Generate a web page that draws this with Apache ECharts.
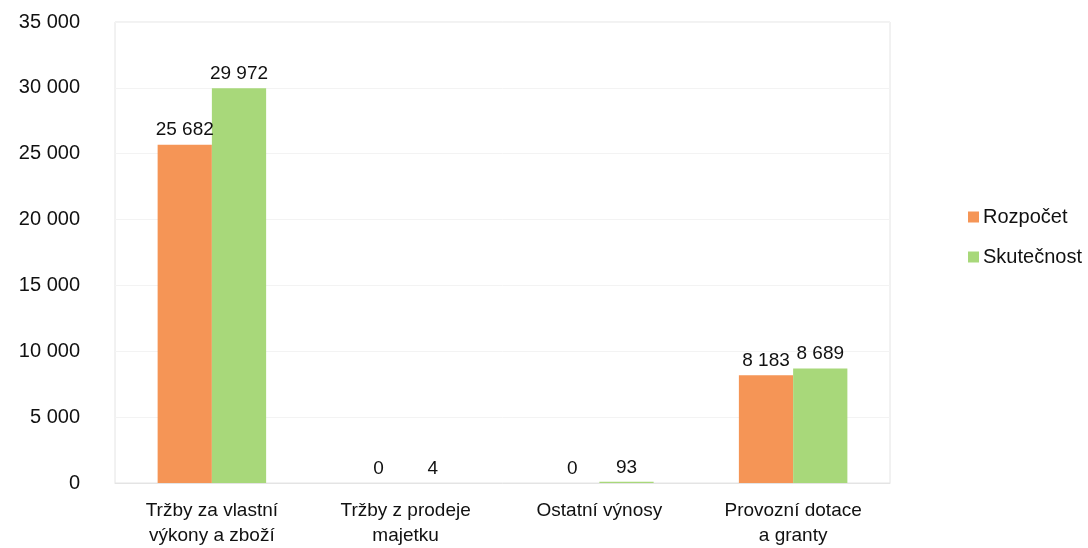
<!DOCTYPE html>
<html>
<head>
<meta charset="utf-8">
<script src="https://cdn.jsdelivr.net/npm/echarts@6/dist/echarts.min.js"></script>
<style>
  html, body { margin: 0; padding: 0; background: #fff; }
  #chart { width: 1088px; height: 548px; }
</style>
</head>
<body>
<div id="chart"></div>
<script>
// Výnosy: rozpočet vs. skutečnost (v tis. Kč)
const categories = [
  'Tržby za vlastní\nvýkony a zboží',
  'Tržby z prodeje\nmajetku',
  'Ostatní výnosy',
  'Provozní dotace\na granty'
];
const rozpocet = [25682, 0, 0, 8183];
const skutecnost = [29972, 4, 93, 8689];
const yTicks = [0, 5000, 10000, 15000, 20000, 25000, 30000, 35000];

const fmt = v => String(Math.round(v)).replace(/\B(?=(\d{3})+(?!\d))/g, ' ');
const font = 'Liberation Sans, Arial, sans-serif';
const ink = '#111111';

const chart = echarts.init(document.getElementById('chart'), null, { renderer: 'canvas' });

const labelStyle = {
  show: true,
  position: 'top',
  distance: 5,
  color: ink,
  fontSize: 19,
  fontFamily: font,
  formatter: p => fmt(p.value)
};

chart.setOption({
  animation: false,
  backgroundColor: '#ffffff',
  textStyle: { fontFamily: font },
  grid: {
    left: 115, right: 198, top: 22, bottom: 63,
    show: true, borderColor: '#e4e4e4', borderWidth: 1
  },
  legend: {
    orient: 'vertical',
    left: 963, top: 202,
    itemWidth: 11, itemHeight: 11, itemGap: 20,
    icon: 'rect',
    textStyle: { fontSize: 20, color: ink, fontFamily: font, padding: [0, 0, 0, -1] },
    data: ['Rozpočet', 'Skutečnost']
  },
  xAxis: {
    type: 'category',
    data: categories,
    axisLine: { show: true, lineStyle: { color: '#e4e4e4' } },
    axisTick: { show: false },
    axisLabel: {
      color: ink, fontSize: 19, fontFamily: font,
      lineHeight: 25, margin: 15, interval: 0
    }
  },
  yAxis: {
    type: 'value',
    min: yTicks[0], max: yTicks[yTicks.length - 1], interval: yTicks[1] - yTicks[0],
    axisLine: { show: false },
    axisTick: { show: false },
    splitLine: { lineStyle: { color: '#f3f3f3' } },
    axisLabel: {
      color: ink, fontSize: 20, fontFamily: font, margin: 35,
      formatter: v => fmt(v)
    }
  },
  series: [
    {
      name: 'Rozpočet', type: 'bar', barWidth: '28%', barGap: '0%',
      itemStyle: { color: '#F59556' },
      label: labelStyle,
      data: rozpocet
    },
    {
      name: 'Skutečnost', type: 'bar', barWidth: '28%',
      itemStyle: { color: '#A8D87A' },
      label: labelStyle,
      data: skutecnost
    }
  ]
});
</script>
</body>
</html>
